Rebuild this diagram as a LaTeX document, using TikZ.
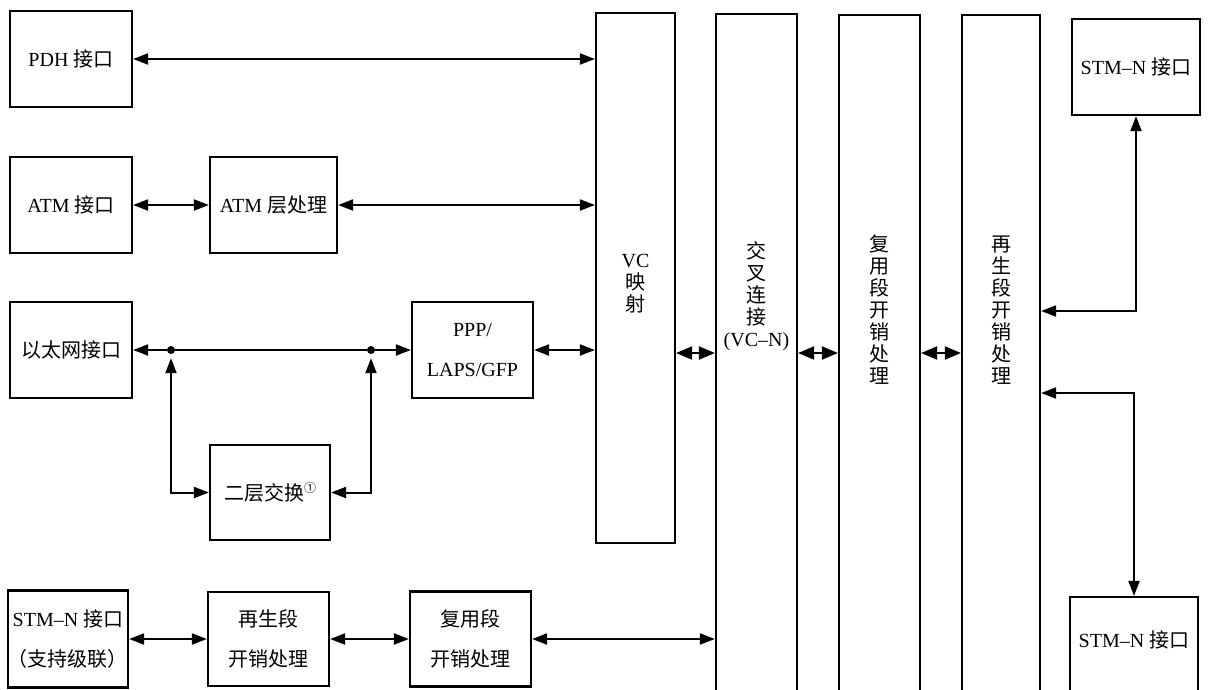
\documentclass[tikz,border=0pt]{standalone}
\usepackage{fontspec}
\setmainfont{Liberation Serif}
\newfontfamily\cjk{Noto Sans CJK SC}
\usetikzlibrary{arrows.meta}
\newcommand\myfs{\fontsize{20}{40}\selectfont}
\newcommand\colfs{\fontsize{20}{22}\selectfont}
\begin{document}
\begin{tikzpicture}[x=1pt,y=-1pt,
  >={Triangle[length=15pt,width=11pt]},
  box/.style={draw,line width=2.2pt,inner sep=0pt,align=center,font=\myfs},
  conn/.style={line width=2pt},
  dbl/.style={line width=2pt,>={Triangle[length=16pt,width=13pt]}},
  coltext/.style={align=center,inner sep=0pt,font=\colfs},
  dot/.style={circle,fill,inner sep=0pt,minimum size=8pt}]
\useasboundingbox (0,0) rectangle (1210,689);
\clip (0,0) rectangle (1210,689);

% left side boxes
\node[box,minimum width=122pt,minimum height=96pt] (pdh) at (71,59) {PDH {\cjk 接口}};
\node[box,minimum width=122pt,minimum height=96pt] (atm) at (71,205) {ATM {\cjk 接口}};
\node[box,minimum width=127pt,minimum height=96pt] (atml) at (273.5,205) {ATM {\cjk 层处理}};
\node[box,minimum width=122pt,minimum height=96pt] (eth) at (71,350) {\cjk 以太网接口};
\node[box,minimum width=121pt,minimum height=96pt] (ppp) at (472.5,350) {PPP/\\LAPS/GFP};
\node[box,minimum width=120pt,minimum height=95pt] (l2) at (270,492.5) {{\cjk 二层交换}\raisebox{0.9ex}{\fontsize{12}{12}\selectfont\cjk ①}};
\node[dot] (d1) at (171,350) {};
\node[dot] (d2) at (371,350) {};

% bottom row
\node[box,minimum width=116pt,minimum height=97pt] (sb1) at (68,639) {STM–N {\cjk 接口}\\{\cjk （支持级联）}};
\node[box,minimum width=121pt,minimum height=94pt] (sb2) at (268.5,639) {\cjk 再生段\\\cjk 开销处理};
\node[box,minimum width=121pt,minimum height=95pt] (sb3) at (470.5,639) {\cjk 复用段\\\cjk 开销处理};

% columns
\node[box,minimum width=79pt,minimum height=530pt] (vc) at (635.5,278) {};
\node[box,minimum width=81pt,minimum height=686pt] (c2) at (756.5,357) {};
\node[box,minimum width=81pt,minimum height=685pt] (c3) at (879.5,357.5) {};
\node[box,minimum width=78pt,minimum height=685pt] (c4) at (1001,357.5) {};

\node[coltext] (vct) at (635.5,284) {VC\\\cjk 映\\\cjk 射};
\node[coltext] (c2t) at (756.5,296) {\cjk 交\\\cjk 叉\\\cjk 连\\\cjk 接\\(VC–N)};
\node[coltext] (c3t) at (879.5,310) {\cjk 复\\\cjk 用\\\cjk 段\\\cjk 开\\\cjk 销\\\cjk 处\\\cjk 理};
\node[coltext] (c4t) at (1001,310) {\cjk 再\\\cjk 生\\\cjk 段\\\cjk 开\\\cjk 销\\\cjk 处\\\cjk 理};

% right boxes
\node[box,minimum width=128pt,minimum height=96pt] (stmt) at (1136,67) {STM–N {\cjk 接口}};
\node[box,minimum width=128pt,minimum height=110pt] (stmb) at (1134,652) {};
\node[inner sep=0pt,font=\myfs] (stmbt) at (1134,640) {STM–N {\cjk 接口}};

% connectors
\draw[conn,<->] (pdh.east) -- (pdh.east -| vc.west);
\draw[conn,<->] (atm.east) -- (atml.west);
\draw[conn,<->] (atml.east) -- (atml.east -| vc.west);
\draw[conn,->] (d1) -- (eth.east);
\draw[conn] (d1) -- (d2);
\draw[conn,->] (d2) -- (ppp.west);
\draw[conn,<->] (ppp.east) -- (ppp.east -| vc.west);
\draw[conn,<->] ([yshift=-4pt]d1.south) |- (l2.west);
\draw[conn,<->] ([yshift=-4pt]d2.south) |- (l2.east);

\draw[dbl,<->] (vc.east |- 0,353) -- (c2.west |- 0,353);
\draw[dbl,<->] (c2.east |- 0,353) -- (c3.west |- 0,353);
\draw[dbl,<->] (c3.east |- 0,353) -- (c4.west |- 0,353);

\draw[conn,<->] (c4.east |- 0,311) -| (stmt.south);
\draw[conn,<->] (c4.east |- 0,393) -| (stmb.north);

\draw[conn,<->] (sb1.east) -- (sb2.west);
\draw[conn,<->] (sb2.east) -- (sb3.west);
\draw[conn,<->] (sb3.east) -- (sb3.east -| c2.west);
\end{tikzpicture}
\end{document}
